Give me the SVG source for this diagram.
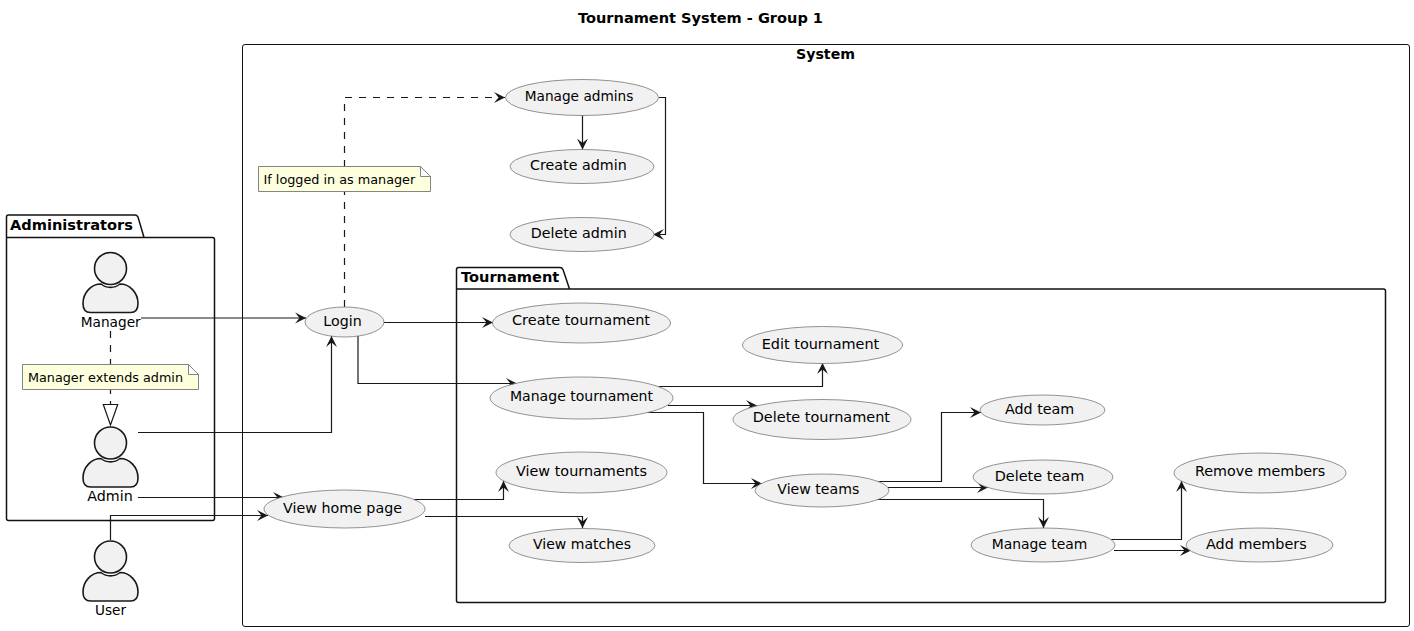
<svg xmlns="http://www.w3.org/2000/svg" width="1414" height="631" viewBox="0 0 1414 631">
<style>
text{font-family:"DejaVu Sans",sans-serif;font-size:14px;fill:#000}
.b{font-weight:bold}
.n{font-size:13px}
.m{text-anchor:middle}
.u ellipse{fill:#f1f1f1;stroke:#777;stroke-width:.8}
.a{fill:#f1f1f1;stroke:#181818;stroke-width:1.6}
.p{fill:none;stroke:#111;stroke-width:1.5}
.note path{fill:#feffdd;stroke:#777;stroke-width:.9}
#connectors path{fill:none;stroke:#181818;stroke-width:1.2;marker-end:url(#h)}
#connectors .d{stroke-dasharray:7 7}
#connectors .x{marker-end:none}
</style>
<defs>
<marker id="h" markerUnits="userSpaceOnUse" markerWidth="14" markerHeight="14" refX="11" refY="7" orient="auto"><path d="M11,7 L0,1.500 L4.500,7 L0,12.500 Z" fill="#181818"/></marker>
<g id="actor"><circle cx="0" cy="0" r="16"/><path d="M-27.500,35 C-27.500,24 -19,15.500 -9.500,15.500 C-4,20 4,20 9.500,15.500 C19,15.500 27.500,24 27.500,35 C27.500,41 25,44 20,44 L-20,44 C-25,44 -27.500,41 -27.500,35 Z"/></g>
</defs>
<rect width="1414" height="631" fill="#fff"/>
<text class="b" x="578" y="23" textLength="245" lengthAdjust="spacingAndGlyphs">Tournament System - Group 1</text>
<g id="system"><rect x="242.500" y="44.500" width="1167" height="582" rx="2.500" fill="none" stroke="#111"/><text class="b" x="796" y="59" textLength="59" lengthAdjust="spacingAndGlyphs">System</text></g>
<g id="administrators"><path class="p" d="M8.500,215 L135,215 Q137,215 138,217 L144,237.500 L212.500,237.500 Q214.500,237.500 214.500,239.500 L214.500,518.500 Q214.500,520.500 212.500,520.500 L8.500,520.500 Q6.500,520.500 6.500,518.500 L6.500,217 Q6.500,215 8.500,215 Z M6.500,237.500 L144,237.500"/><text class="b" x="10" y="230" textLength="123" lengthAdjust="spacingAndGlyphs">Administrators</text></g>
<g id="tournament"><path class="p" d="M458.500,267.500 L560,267.500 Q562,267.500 563,269.500 L569.500,289 L1383.500,289 Q1385.500,289 1385.500,291 L1385.500,600.500 Q1385.500,602.500 1383.500,602.500 L458.500,602.500 Q456.500,602.500 456.500,600.500 L456.500,269.500 Q456.500,267.500 458.500,267.500 Z M456.500,289 L569.500,289"/><text class="b" x="461" y="282" textLength="98.300" lengthAdjust="spacingAndGlyphs">Tournament</text></g>
<g id="connectors">
<path d="M141,318 H306"/>
<path d="M138,432.500 H331.500 V336"/>
<path d="M138,497.500 H284"/>
<path d="M110.500,540 V515.500 H268"/>
<path class="d" d="M344.500,307 V97.500 H505"/>
<path d="M582.500,115 V149.500"/>
<path d="M659,97.500 H665.500 V234.500 H653"/>
<path d="M384,322.500 H493"/>
<path d="M358,335 V383.500 H517"/>
<path d="M655,386.500 H822.500 V363"/>
<path d="M668,405.500 H757"/>
<path d="M647,412.500 H703.500 V483.500 H762"/>
<path d="M875,481.500 H941.500 V412.500 H981"/>
<path d="M888,487.500 H988"/>
<path d="M875,499.500 H1043.500 V528"/>
<path d="M1110,539.500 H1181.500 V481"/>
<path d="M1114,550.500 H1191"/>
<path d="M412,499.500 H503.500 V481"/>
<path d="M425,516.500 H582.500 V528"/>
<path class="d x" d="M110.500,331 V404"/>
<path d="M110.500,425 L103.300,404.500 H117.700 Z" style="marker-end:none;fill:#fff"/>
</g>
<g id="note-manager" class="note"><path d="M22.500,364.500 H188.500 L198.500,374.500 V389.500 H22.500 Z M188.500,364.500 V374.500 H198.500"/><text class="n" x="28" y="382" textLength="155" lengthAdjust="spacingAndGlyphs">Manager extends admin</text></g>
<g id="note-login" class="note"><path d="M258.500,166.500 H420.500 L430.500,176.500 V191.500 H258.500 Z M420.500,166.500 V176.500 H430.500"/><text class="n" x="263.500" y="184" textLength="151.700" lengthAdjust="spacingAndGlyphs">If logged in as manager</text></g>
<g id="manager"><use href="#actor" class="a" x="110.500" y="268.500"/><text x="80.700" y="327" textLength="60" lengthAdjust="spacingAndGlyphs">Manager</text></g>
<g id="admin"><use href="#actor" class="a" x="110.500" y="443"/><text x="87.300" y="501" textLength="45.400" lengthAdjust="spacingAndGlyphs">Admin</text></g>
<g id="user"><use href="#actor" class="a" x="110.500" y="557"/><text x="95" y="615" textLength="31" lengthAdjust="spacingAndGlyphs">User</text></g>
<g class="u">
<g id="manage-admins"><ellipse cx="582" cy="97.500" rx="76.500" ry="18"/><text x="524.700" y="101" textLength="108.700" lengthAdjust="spacingAndGlyphs">Manage admins</text></g>
<g id="create-admin"><ellipse cx="582" cy="166.500" rx="72" ry="17"/><text x="530" y="170" textLength="96.700" lengthAdjust="spacingAndGlyphs">Create admin</text></g>
<g id="delete-admin"><ellipse cx="582" cy="234.500" rx="72" ry="17"/><text x="530.700" y="238" textLength="96" lengthAdjust="spacingAndGlyphs">Delete admin</text></g>
<g id="login"><ellipse cx="344.500" cy="322" rx="39.500" ry="15"/><text x="323.300" y="326" textLength="38.400" lengthAdjust="spacingAndGlyphs">Login</text></g>
<g id="create-tournament"><ellipse cx="581.500" cy="323" rx="89" ry="20"/><text x="512" y="325" textLength="138" lengthAdjust="spacingAndGlyphs">Create tournament</text></g>
<g id="edit-tournament"><ellipse cx="822.500" cy="345" rx="80" ry="18.500"/><text x="761.700" y="349" textLength="117.600" lengthAdjust="spacingAndGlyphs">Edit tournament</text></g>
<g id="manage-tournament"><ellipse cx="581.500" cy="398" rx="91.500" ry="21"/><text x="510" y="401" textLength="143" lengthAdjust="spacingAndGlyphs">Manage tournament</text></g>
<g id="delete-tournament"><ellipse cx="822" cy="419.500" rx="89" ry="20"/><text x="752.700" y="422" textLength="137.300" lengthAdjust="spacingAndGlyphs">Delete tournament</text></g>
<g id="view-tournaments"><ellipse cx="581.500" cy="472.500" rx="85.500" ry="20.500"/><text x="516" y="476" textLength="131" lengthAdjust="spacingAndGlyphs">View tournaments</text></g>
<g id="view-matches"><ellipse cx="582" cy="545.500" rx="73" ry="17"/><text x="533" y="549" textLength="98" lengthAdjust="spacingAndGlyphs">View matches</text></g>
<g id="view-home-page"><ellipse cx="344.500" cy="509" rx="80.500" ry="19"/><text x="283" y="513" textLength="119" lengthAdjust="spacingAndGlyphs">View home page</text></g>
<g id="view-teams"><ellipse cx="822" cy="490.500" rx="67" ry="16.500"/><text x="777.300" y="494" textLength="82" lengthAdjust="spacingAndGlyphs">View teams</text></g>
<g id="add-team"><ellipse cx="1042.500" cy="410" rx="62.500" ry="15"/><text x="1005" y="414" textLength="69.300" lengthAdjust="spacingAndGlyphs">Add team</text></g>
<g id="delete-team"><ellipse cx="1043" cy="477" rx="70" ry="17"/><text x="994.700" y="481" textLength="89.600" lengthAdjust="spacingAndGlyphs">Delete team</text></g>
<g id="manage-team"><ellipse cx="1043" cy="545" rx="72" ry="17"/><text x="991.700" y="549" textLength="95.600" lengthAdjust="spacingAndGlyphs">Manage team</text></g>
<g id="remove-members"><ellipse cx="1260" cy="473" rx="86" ry="20"/><text x="1195" y="476" textLength="130.300" lengthAdjust="spacingAndGlyphs">Remove members</text></g>
<g id="add-members"><ellipse cx="1259.500" cy="545" rx="73.500" ry="17"/><text x="1206" y="549" textLength="100.700" lengthAdjust="spacingAndGlyphs">Add members</text></g>
</g>
</svg>
